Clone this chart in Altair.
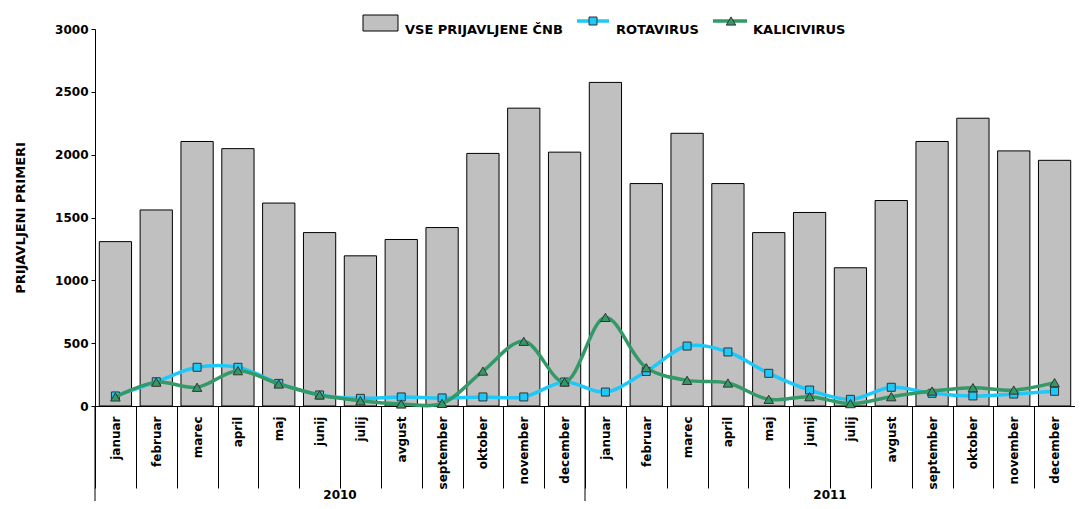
import altair as alt
import pandas as pd

years = ["2010", "2011"]
months = ["januar", "februar", "marec", "april", "maj", "junij", "julij",
          "avgust", "september", "oktober", "november", "december"]
vse = [1308, 1560, 2105, 2048, 1615, 1380, 1195, 1325, 1420, 2010, 2370, 2020,
       2575, 1770, 2170, 1770, 1380, 1540, 1100, 1635, 2105, 2290, 2030, 1955]
rota = [80, 193, 308, 308, 180, 88, 61, 72, 64, 72, 72, 191,
        111, 275, 477, 430, 260, 127, 53, 149, 101, 80, 95, 117]
kalici = [72, 190, 149, 281, 175, 88, 42, 16, 21, 278, 515, 191,
          705, 305, 204, 183, 53, 74, 19, 74, 119, 146, 127, 186]

keys = [f"{y}-{m}" for y in years for m in months]
df = pd.DataFrame({"key": keys, "vse": vse, "rota": rota, "kalici": kalici})
rule_df = pd.DataFrame({"key": [f"{y}-januar" for y in years]})
ytext_df = pd.DataFrame({"key": [f"{y}-julij" for y in years], "year": years})
one = pd.DataFrame({"a": [0]})

FONT = "DejaVu Sans"
W, H = 980, 377
CYAN = "#1EC8F8"
GREEN = "#339966"

xscale = alt.Scale(paddingInner=0, paddingOuter=0)
yscale = alt.Scale(domain=[0, 3000], nice=False)

x_axis = alt.Axis(
    title=None, labelAngle=270, tickBand="extent", tickSize=82,
    labelPadding=-72, labelFontSize=12, labelFontWeight="bold",
    labelColor="black", tickColor="black", domainColor="black",
    labelFont=FONT, labelExpr="split(datum.value, '-')[1]",
)
y_axis = alt.Axis(
    title="PRIJAVLJENI PRIMERI", values=[0, 500, 1000, 1500, 2000, 2500, 3000],
    format="d",
    grid=False, tickSize=4, tickColor="black", domainColor="black",
    labelFontSize=12, labelFontWeight="bold", labelColor="black", labelFont=FONT,
    labelPadding=3, titleFont=FONT, titleFontSize=13, titleFontWeight="bold",
    titleColor="black", titleX=-75, titleY=H / 2, titleAngle=270,
    titleAlign="center", titleBaseline="middle",
)


def X(**kw):
    return alt.X("key:N", sort=keys, scale=xscale, axis=x_axis, **kw)


def Y(col):
    return alt.Y(f"{col}:Q", scale=yscale, axis=y_axis)


bars = alt.Chart(df).mark_bar(
    width=alt.RelativeBandSize(0.79), fill="#C0C0C0", stroke="black", strokeWidth=1
).encode(x=X(), y=Y("vse"))


def series(col, color, shape, size):
    line = alt.Chart(df).mark_line(
        interpolate="catmull-rom", color=color, strokeWidth=3.5
    ).encode(x=X(), y=Y(col))
    pts = alt.Chart(df).mark_point(
        shape=shape, filled=True, fill=color, stroke="#333333", strokeWidth=1,
        size=size, opacity=1
    ).encode(x=X(), y=Y(col))
    return line + pts


rota_layer = series("rota", CYAN, "square", 64)
kal_layer = series("kalici", GREEN, "triangle-up", 90)

year_rules = alt.Chart(rule_df).mark_rule(color="black", strokeWidth=1).encode(
    x=X(bandPosition=0), y=alt.value(H), y2=alt.value(H + 95),
)
year_text = alt.Chart(ytext_df).mark_text(
    font=FONT, fontSize=12, fontWeight="bold", color="black", baseline="alphabetic"
).encode(
    x=X(bandPosition=0), y=alt.value(H + 93), text="year:N",
)

# legend
leg_box = alt.Chart(one).mark_rect(fill="#C0C0C0", stroke="black", strokeWidth=1).encode(
    x=alt.value(268), x2=alt.value(303), y=alt.value(-14), y2=alt.value(2))


def leg_text(label, xpos):
    return alt.Chart(one).mark_text(
        text=label, align="left", baseline="alphabetic", font=FONT,
        fontSize=13, fontWeight="bold", color="black"
    ).encode(x=alt.value(xpos), y=alt.value(5))


def leg_line(x1, x2, color):
    return alt.Chart(one).mark_rule(color=color, strokeWidth=3.5).encode(
        x=alt.value(x1), x2=alt.value(x2), y=alt.value(-8))


def leg_mark(xpos, color, shape, size):
    return alt.Chart(one).mark_point(
        shape=shape, filled=True, fill=color, stroke="#333333", strokeWidth=1,
        size=size, opacity=1
    ).encode(x=alt.value(xpos), y=alt.value(-8))


legend = (
    leg_box + leg_text("VSE PRIJAVLJENE ČNB", 310)
    + leg_line(482, 514, CYAN) + leg_mark(498, CYAN, "square", 64)
    + leg_text("ROTAVIRUS", 521)
    + leg_line(618, 652, GREEN) + leg_mark(636, GREEN, "triangle-up", 90)
    + leg_text("KALICIVIRUS", 658)
)

chart = alt.layer(
    bars, rota_layer, kal_layer, year_rules, year_text, legend
).properties(
    width=W, height=H,
    autosize=alt.AutoSizeParams(type="none"),
    padding={"left": 87, "top": 21, "right": 0, "bottom": 95},
    background="white",
).configure_view(stroke=None)

chart.save("out.html", embed_options={"renderer": "svg", "actions": False})
